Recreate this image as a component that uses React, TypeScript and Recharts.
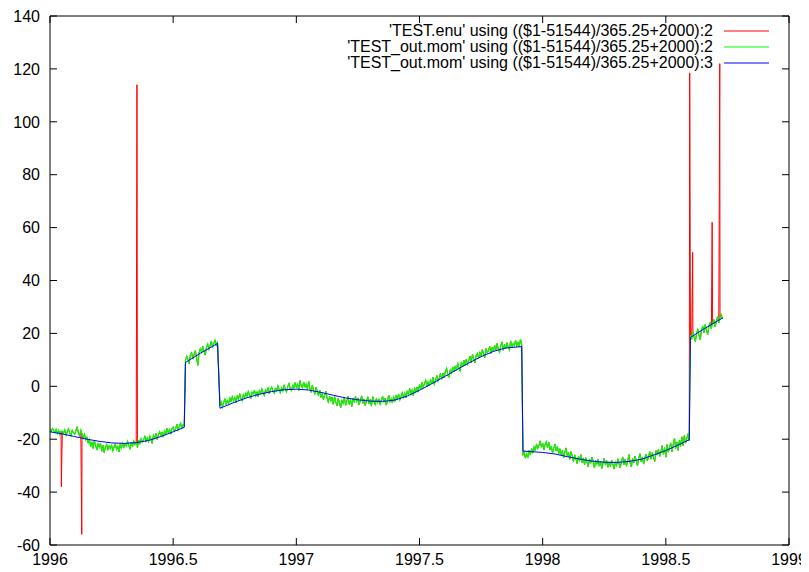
import React from 'react';
import { LineChart, Line, XAxis, YAxis, Legend } from 'recharts';

// ---- data ----
const STEP = 0.005; // sampling step in years

const greenSeg1Start = 1996.0;
const greenSeg1 = [
  -16.3, -17.1, -15.9, -16.8, -17.6, -16.2, -17.9, -16.6, -18.3, -17.0,
  -16.9, -17.8, -16.4, -18.5, -17.2, -16.1, -17.7, -18.8, -16.6, -17.5,
  -18.2, -16.9, -15.3, -17.4, -18.9, -16.5, -17.8, -19.6, -18.1, -20.3,
  -19.2, -21.4, -20.1, -22.8, -21.0, -23.5, -20.6, -22.2, -24.1, -21.7,
  -23.0, -21.5, -24.6, -22.3, -25.1, -22.8, -21.9, -24.0, -22.5, -23.7,
  -22.1, -24.4, -23.0, -21.8, -23.9, -22.6, -24.8, -22.0, -23.3, -21.5,
  -23.1, -21.9, -22.7, -20.8, -22.4, -23.6, -21.2, -22.8, -20.6, -22.0,
  -21.4, -23.2, -20.3, -21.7, -19.8, -21.1, -20.2, -18.9, -20.8, -19.5,
  -20.9, -18.7, -19.9, -21.6, -18.4, -19.6, -17.8, -20.1, -18.3, -17.1,
  -18.6, -17.4, -19.2, -16.8, -18.0, -15.9, -17.5, -16.3, -18.1, -16.0,
  -15.4, -17.0, -16.1, -14.3, -16.6, -15.2, -13.9, -15.8, -14.6, -15.1,
];
const greenSeg2Start = 1996.55;
const greenSeg2 = [
  9.8, 11.4, 10.2, 8.6, 11.9, 12.7, 10.3, 12.1, 13.5, 11.0,
  7.9, 12.6, 14.2, 12.9, 15.1, 13.3, 11.8, 14.6, 16.0, 13.9,
  15.4, 17.1, 14.7, 16.3, 17.5, 15.2, 16.9,
];
const greenSeg3Start = 1996.69;
const greenSeg3 = [
  -7.2, -5.9, -7.8, -6.1, -4.8, -6.9, -5.3, -6.6, -4.4, -5.8,
  -3.9, -5.6, -4.2, -6.3, -3.5, -4.9, -2.8, -4.6, -5.5, -3.1,
  -4.3, -2.5, -3.8, -1.9, -3.3, -4.7, -2.2, -3.0, -1.4, -3.6,
  -2.1, -3.9, -1.6, -2.7, -0.9, -2.4, -3.5, -1.3, -2.0, -0.6,
  -2.8, -1.1, -0.3, -1.9, -2.6, -0.8, -1.7, 0.2, -1.2, -2.4,
  -0.5, -1.8, 0.4, -1.0, -2.1, -0.2, 1.1, -0.9, -1.6, 0.3,
  -0.7, 1.4, -0.4, 0.8, -1.5, 2.2, 0.1, -0.6, 1.6, -0.3,
  0.9, -1.2, 2.0, -0.8, -2.3, 0.5, -1.6, -2.9, -0.4, -1.9,
  -3.6, -1.5, -4.2, -2.8, -5.1, -3.3, -1.9, -4.6, -6.0, -3.7,
  -5.5, -4.1, -6.8, -3.9, -5.9, -7.4, -4.6, -6.2, -8.1, -5.3,
  -6.5, -4.2, -7.2, -5.6, -3.8, -6.9, -5.0, -7.7, -4.5, -6.1,
  -3.9, -5.8, -4.4, -7.0, -5.3, -3.6, -6.4, -4.8, -7.3, -5.5,
  -4.1, -6.6, -5.0, -7.5, -3.9, -5.7, -6.9, -4.6, -6.2, -4.9,
  -6.8, -5.2, -3.7, -6.0, -4.5, -7.1, -5.4, -3.3, -5.9, -4.7,
  -6.3, -4.1, -5.6, -3.5, -4.8, -2.9, -5.2, -3.8, -2.4, -4.3,
  -2.6, -4.4, -1.9, -3.2, -0.8, -2.9, -1.4, -3.6, -0.5, -2.1,
  -0.3, -2.2, 0.6, -1.0, 1.5, -0.4, 0.9, 2.3, -0.1, 1.7,
  0.2, 2.6, 1.1, 3.4, 0.8, 2.0, 4.1, 1.9, 3.0, 4.8,
  2.7, 4.9, 3.3, 5.6, 6.8, 4.1, 3.5, 6.2, 5.0, 7.3,
  5.4, 7.7, 6.1, 8.9, 7.0, 5.8, 9.2, 7.5, 9.9, 8.1,
  10.3, 8.2, 9.6, 11.4, 9.0, 12.1, 10.4, 8.9, 11.6, 12.5,
  10.6, 12.8, 11.3, 13.9, 12.2, 10.9, 14.3, 12.6, 13.5, 15.1,
  12.4, 14.7, 13.1, 15.6, 13.8, 16.2, 14.0, 12.9, 15.3, 16.8,
  13.6, 15.9, 14.2, 16.5, 15.0, 13.8, 17.2, 14.6, 16.1, 15.3,
  17.4, 15.2, 16.7, 14.9, 17.8, 15.6,
];
const greenSeg4Start = 1997.92;
const greenSeg4 = [
  -26.1, -24.8, -27.2, -25.5, -26.8, -24.2, -25.9, -23.6, -25.1, -22.9,
  -24.4, -21.8, -23.5, -22.4, -20.6, -23.0, -21.5, -24.1, -22.0, -20.9,
  -23.3, -21.2, -24.0, -22.6, -25.2, -23.4, -21.9, -24.5, -22.7, -25.6,
  -23.6, -25.8, -24.2, -27.1, -24.9, -23.3, -26.4, -25.0, -27.6, -24.7,
  -26.3, -28.5, -25.9, -27.4, -29.2, -26.6, -28.0, -25.8, -28.9, -27.1,
  -29.6, -27.0, -28.7, -30.4, -27.5, -29.1, -26.8, -28.3, -30.9, -28.0,
  -29.4, -27.6, -30.2, -28.4, -31.1, -29.0, -27.3, -29.8, -28.1, -30.6,
  -28.6, -30.3, -27.9, -29.5, -31.3, -28.7, -30.0, -27.4, -29.3, -30.8,
  -28.2, -26.7, -29.6, -27.5, -30.2, -28.4, -25.8, -28.9, -30.5, -27.3,
  -29.0, -26.4, -28.3, -30.1, -27.2, -25.5, -28.6, -26.8, -29.4, -27.0,
  -25.6, -28.2, -26.3, -24.7, -27.5, -25.1, -26.9, -28.4, -24.3, -26.0,
  -23.8, -26.5, -24.6, -22.4, -25.7, -23.2, -26.8, -22.0, -24.9, -23.1,
  -21.4, -24.8, -22.1, -19.6, -23.5, -21.0, -24.2, -20.3, -22.7, -19.1,
  -22.4, -18.6, -21.5, -19.8, -17.9, -20.6,
];
const greenSeg5Start = 1998.6;
const greenSeg5 = [
  19.3, 17.8, 20.6, 18.4, 16.9, 20.1, 21.5, 19.2, 17.6, 21.8,
  22.6, 20.3, 23.4, 21.1, 19.6, 22.9, 24.1, 21.7, 23.8, 25.2,
  22.6, 24.5, 26.3, 24.0, 25.7, 27.1, 25.4,
];

const blueTimes = [
  1996.0, 1996.05, 1996.1, 1996.15, 1996.2, 1996.25, 1996.3, 1996.35, 1996.4, 1996.45, 1996.5, 1996.545,
  1996.55, 1996.61, 1996.68,
  1996.69, 1996.75, 1996.8, 1996.85, 1996.9, 1996.95, 1997.0, 1997.05, 1997.1, 1997.15, 1997.2,
  1997.25, 1997.3, 1997.35, 1997.4, 1997.45, 1997.5, 1997.55, 1997.6, 1997.65, 1997.7, 1997.75,
  1997.8, 1997.85, 1997.915,
  1997.92, 1998.0, 1998.05, 1998.1, 1998.15, 1998.2, 1998.25, 1998.3, 1998.35, 1998.4, 1998.45,
  1998.5, 1998.55, 1998.595,
  1998.6, 1998.66, 1998.73,
];
const blueValues = [
  -17.2, -18.0, -19.0, -20.0, -20.8, -21.4, -21.6, -21.3, -20.5, -19.0, -17.2, -15.5,
  9.0, 12.5, 16.2,
  -8.3, -6.0, -4.3, -3.0, -2.0, -1.3, -1.1, -1.4, -2.3, -3.4, -4.4,
  -5.1, -5.6, -5.7, -5.2, -3.7, -1.5, 1.0, 3.6, 6.2, 8.8, 11.2,
  13.2, 14.5, 15.0,
  -24.5, -25.0, -25.6, -26.6, -27.5, -28.3, -28.7, -28.8, -28.4, -27.6, -26.0,
  -24.3, -22.2, -20.2,
  18.5, 22.0, 25.8,
];

// outliers only present in the raw (red) series
const outlierTimes = [1996.046, 1996.129, 1996.353, 1998.597, 1998.609, 1998.688, 1998.719];
const outlierValues = [-38, -56, 114, 118.5, 50.6, 62, 122];

const xTicks = [1996, 1996.5, 1997, 1997.5, 1998, 1998.5, 1999];
const yTicks = [-60, -40, -20, 0, 20, 40, 60, 80, 100, 120, 140];

const seriesNames = [
  "'TEST.enu' using (($1-51544)/365.25+2000):2",
  "'TEST_out.mom' using (($1-51544)/365.25+2000):2",
  "'TEST_out.mom' using (($1-51544)/365.25+2000):3",
];
const seriesColors = ['#ff0000', '#00ff00', '#0000ff'];

// ---- tables for the library ----
const round = (n: number) => Math.round(n * 1000) / 1000;
const segs: [number, number[]][] = [
  [greenSeg1Start, greenSeg1],
  [greenSeg2Start, greenSeg2],
  [greenSeg3Start, greenSeg3],
  [greenSeg4Start, greenSeg4],
  [greenSeg5Start, greenSeg5],
];
const greenData = segs.flatMap(([start, vals]) => vals.map((v, i) => ({ t: round(start + i * STEP), v })));
const blueData = blueTimes.map((t, i) => ({ t, v: blueValues[i] }));
const redData = [...greenData, ...outlierTimes.map((t, i) => ({ t, v: outlierValues[i] }))].sort((a, b) => a.t - b.t);

const FONT = "'Liberation Sans', Arial, Helvetica, sans-serif";
const FS = 16;
const TICK_LEN = 7;

const BottomTick = (props: any) => {
  const { x, y, payload } = props;
  return (
    <g>
      <line x1={x} x2={x} y1={y} y2={y - TICK_LEN} stroke="#000" strokeWidth={1} />
      <text x={x} y={y + 20} textAnchor="middle" fontFamily={FONT} fontSize={FS} fill="#000">
        {String(payload.value)}
      </text>
    </g>
  );
};
const TopTick = (props: any) => {
  const { x, y } = props;
  return <line x1={x} x2={x} y1={y} y2={y + TICK_LEN} stroke="#000" strokeWidth={1} />;
};
const LeftTick = (props: any) => {
  const { x, y, payload } = props;
  return (
    <g>
      <line x1={x} x2={x + TICK_LEN} y1={y} y2={y} stroke="#000" strokeWidth={1} />
      <text x={x - 10} y={y} dy="0.36em" textAnchor="end" fontFamily={FONT} fontSize={FS} fill="#000">
        {payload.value}
      </text>
    </g>
  );
};
const RightTick = (props: any) => {
  const { x, y } = props;
  return <line x1={x} x2={x - TICK_LEN} y1={y} y2={y} stroke="#000" strokeWidth={1} />;
};

const renderLegend = (props: any) => {
  const payload = (props.payload || []) as any[];
  return (
    <div style={{ fontFamily: FONT, fontSize: FS, color: '#000' }}>
      {payload.map((p, i) => {
        const idx = seriesNames.indexOf(p.value);
        const col = idx >= 0 ? seriesColors[idx] : p.color;
        return (
          <div key={i} style={{ display: 'flex', justifyContent: 'flex-end', alignItems: 'center', height: 16, lineHeight: '16px' }}>
            <span style={{ whiteSpace: 'nowrap' }}>{p.value}</span>
            <svg width={45} height={4} style={{ marginLeft: 11, display: 'block' }}>
              <line x1={0} x2={45} y1={2} y2={2} stroke={col} strokeWidth={1} />
            </svg>
          </div>
        );
      })}
    </div>
  );
};

export default function App() {
  return (
    <LineChart width={801} height={564} margin={{ top: 7, right: 19, bottom: 8, left: 0 }}>
      <XAxis
        xAxisId={0}
        dataKey="t"
        type="number"
        domain={[1996, 1999]}
        ticks={xTicks}
        interval={0}
        allowDataOverflow
        height={19}
        tickSize={0}
        tickMargin={0}
        tick={<BottomTick />}
        axisLine={{ stroke: '#000', strokeWidth: 1 }}
        tickLine={false}
      />
      <XAxis
        xAxisId="top"
        orientation="top"
        dataKey="t"
        type="number"
        domain={[1996, 1999]}
        ticks={xTicks}
        interval={0}
        allowDataOverflow
        height={1}
        tickSize={0}
        tickMargin={0}
        tick={<TopTick />}
        axisLine={{ stroke: '#000', strokeWidth: 1 }}
        tickLine={false}
      />
      <YAxis
        yAxisId={0}
        type="number"
        domain={[-60, 140]}
        ticks={yTicks}
        interval={0}
        allowDataOverflow
        width={42}
        tickSize={0}
        tickMargin={0}
        tick={<LeftTick />}
        axisLine={{ stroke: '#000', strokeWidth: 1 }}
        tickLine={false}
      />
      <YAxis
        yAxisId="right"
        orientation="right"
        type="number"
        domain={[-60, 140]}
        ticks={yTicks}
        interval={0}
        allowDataOverflow
        width={1}
        tickSize={0}
        tickMargin={0}
        tick={<RightTick />}
        axisLine={{ stroke: '#000', strokeWidth: 1 }}
        tickLine={false}
      />
      <Legend
        layout="horizontal"
        verticalAlign="middle"
        align="center"
        content={renderLegend}
        wrapperStyle={{ top: 15, left: 'auto', right: 40, width: 'auto', height: 'auto' }}
      />
      <Line
        data={redData}
        dataKey="v"
        name={seriesNames[0]}
        stroke={seriesColors[0]}
        strokeWidth={1}
        dot={false}
        activeDot={false}
        isAnimationActive={false}
        type="linear"
      />
      <Line
        data={greenData}
        dataKey="v"
        name={seriesNames[1]}
        stroke={seriesColors[1]}
        strokeWidth={1.2}
        dot={false}
        activeDot={false}
        isAnimationActive={false}
        type="linear"
      />
      <Line
        data={blueData}
        dataKey="v"
        name={seriesNames[2]}
        stroke={seriesColors[2]}
        strokeWidth={1}
        dot={false}
        activeDot={false}
        isAnimationActive={false}
        type="linear"
      />
    </LineChart>
  );
}
